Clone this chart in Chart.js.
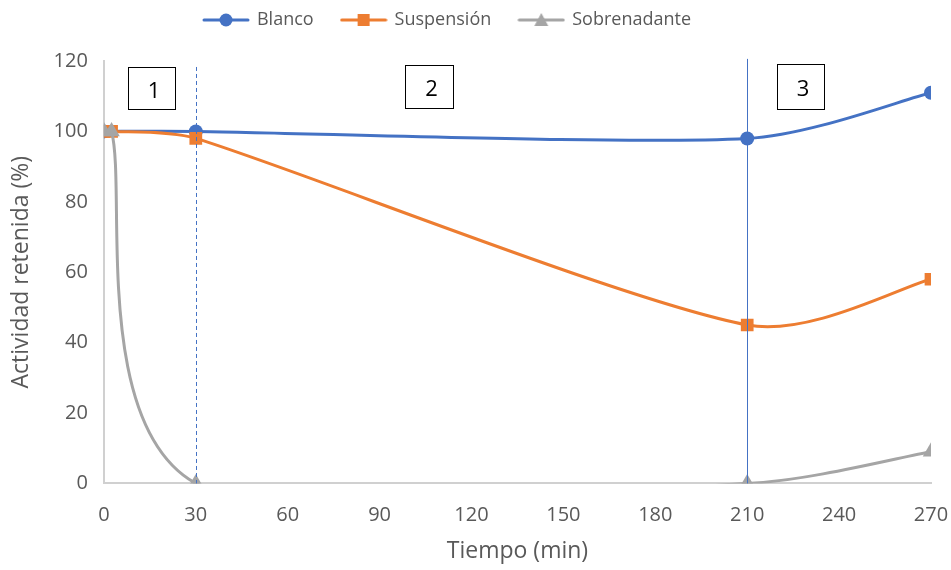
<!DOCTYPE html>
<html>
<head>
<meta charset="utf-8">
<script src="https://cdn.jsdelivr.net/npm/chart.js@4/dist/chart.umd.min.js"></script>
<style>
  html, body { margin: 0; padding: 0; background: #fff; }
  #wrap { width: 951px; height: 570px; }
</style>
</head>
<body>
<div id="wrap"><canvas id="chart"></canvas></div>
<script>
// Tiempo (min) y actividad retenida (%) por serie
const blancoX = [0, 30, 210, 270];
const blancoY = [100, 100, 98, 111];
const suspX = [0, 2.5, 30, 210, 270];
const suspY = [100, 100, 98, 45, 58];
const sobreX = [0, 2.5, 30, 210, 270];
const sobreY = [100, 100, 0, 0, 9];
const xTicks = [0, 30, 60, 90, 120, 150, 180, 210, 240, 270];

const BLUE = '#4472C4';
const ORANGE = '#ED7D31';
const GREY = '#A5A5A5';
const TEXT = '#595959';
const FONT = "'Open Sans', sans-serif";

function toPoints(xs, ys) {
  return xs.map((x, i) => ({ x: x, y: ys[i] }));
}

// legend swatch: short line with the marker in the middle
function swatch(color, shape) {
  const c = document.createElement('canvas');
  c.width = 48; c.height = 16;
  const g = c.getContext('2d');
  g.strokeStyle = color; g.lineWidth = 3; g.lineCap = 'round';
  g.beginPath(); g.moveTo(2, 8); g.lineTo(46, 8); g.stroke();
  g.fillStyle = color;
  g.beginPath();
  if (shape === 'circle') g.arc(24, 8, 6.5, 0, Math.PI * 2);
  else if (shape === 'rect') g.rect(18, 2, 12, 12);
  else { g.moveTo(24, 1); g.lineTo(31, 14); g.lineTo(17, 14); g.closePath(); }
  g.fill();
  return c;
}

// more room under the legend, and nudge it left
const legendGap = {
  id: 'legendGap',
  beforeInit(chart) {
    const fit = chart.legend.fit;
    chart.legend.fit = function () {
      fit.call(this);
      this.height += 22;
    };
  },
  afterLayout(chart) {
    chart.legend.left -= 20;
    chart.legend.right -= 20;
  }
};

// office-style smoothing: tangent = (next - prev) / 6 in pixel space,
// shortened to a third of the segment on each side
const smoothLines = {
  id: 'smoothLines',
  beforeDatasetDraw(chart, args) {
    const line = args.meta.dataset;
    const pts = args.meta.data;
    line.updateControlPoints(chart.chartArea, 'x');
    for (let i = 0; i < pts.length; i++) {
      const p = pts[i];
      const prev = pts[Math.max(i - 1, 0)];
      const next = pts[Math.min(i + 1, pts.length - 1)];
      const dx = (next.x - prev.x) / 6;
      const dy = (next.y - prev.y) / 6;
      const len = Math.hypot(dx, dy) || 1;
      const l1 = Math.min(len, Math.hypot(p.x - prev.x, p.y - prev.y) / 3);
      const l2 = Math.min(len, Math.hypot(next.x - p.x, next.y - p.y) / 3);
      p.cp1x = p.x - dx / len * l1; p.cp1y = p.y - dy / len * l1;
      p.cp2x = p.x + dx / len * l2; p.cp2y = p.y + dy / len * l2;
    }
    line._path = undefined;
  }
};

// divisiones de etapas y recuadros numerados
const stagePlugin = {
  id: 'stages',
  afterDatasetsDraw(chart) {
    const { ctx, scales: { x, y } } = chart;
    const x30 = Math.round(x.getPixelForValue(30)) + 0.5;
    const x210 = Math.round(x.getPixelForValue(210)) + 0.5;
    ctx.save();
    ctx.lineWidth = 1;
    ctx.strokeStyle = BLUE;
    ctx.setLineDash([4, 3]);
    ctx.beginPath();
    ctx.moveTo(x30, y.getPixelForValue(118.3));
    ctx.lineTo(x30, y.getPixelForValue(0));
    ctx.stroke();
    ctx.setLineDash([]);
    ctx.strokeStyle = BLUE;
    ctx.beginPath();
    ctx.moveTo(x210, y.getPixelForValue(120.6));
    ctx.lineTo(x210, y.getPixelForValue(0));
    ctx.stroke();

    const boxes = [
      { label: '1', x0: 7.8, x1: 23.2, y0: 118.3, y1: 106.4 },
      { label: '2', x0: 98.3, x1: 114, y0: 118.9, y1: 106.7 },
      { label: '3', x0: 219.7, x1: 235, y0: 119.2, y1: 106.4 }
    ];
    ctx.font = '22px ' + FONT;
    ctx.textAlign = 'center';
    ctx.textBaseline = 'middle';
    boxes.forEach(b => {
      const l = Math.round(x.getPixelForValue(b.x0)) + 0.5;
      const r = Math.round(x.getPixelForValue(b.x1)) + 0.5;
      const t = Math.round(y.getPixelForValue(b.y0)) + 0.5;
      const bt = Math.round(y.getPixelForValue(b.y1)) + 0.5;
      ctx.fillStyle = '#fff';
      ctx.fillRect(l, t, r - l, bt - t);
      ctx.strokeStyle = '#000';
      ctx.strokeRect(l, t, r - l, bt - t);
      ctx.fillStyle = '#000';
      ctx.fillText(b.label, (l + r) / 2 + 2, (t + bt) / 2 + 3);
    });
    ctx.restore();
  }
};

const series = [
  { label: 'Blanco', xs: blancoX, ys: blancoY, color: BLUE, shape: 'circle', radius: 7 },
  { label: 'Suspensión', xs: suspX, ys: suspY, color: ORANGE, shape: 'rect', radius: 9 },
  { label: 'Sobrenadante', xs: sobreX, ys: sobreY, color: GREY, shape: 'triangle', radius: 9.5 }
];

new Chart(document.getElementById('chart'), {
  type: 'line',
  data: {
    datasets: series.map(s => ({
      label: s.label,
      data: toPoints(s.xs, s.ys),
      borderColor: s.color,
      backgroundColor: s.color,
      borderWidth: 3,
      tension: 0.4,
      pointStyle: s.shape,
      pointRadius: s.radius,
      pointBorderWidth: 0,
      legendSwatch: swatch(s.color, s.shape)
    })).reverse()
  },
  options: {
    responsive: true,
    maintainAspectRatio: false,
    animation: false,
    layout: { padding: { top: -17, right: 20, left: 4, bottom: 1 } },
    plugins: {
      tooltip: { enabled: false },
      legend: {
        position: 'top',
        reverse: true,
        labels: {
          usePointStyle: true,
          pointStyleWidth: 44,
          color: TEXT,
          font: { family: FONT, size: 18 },
          padding: 28,
          generateLabels(chart) {
            return chart.data.datasets.map((d, i) => ({
              text: d.label,
              pointStyle: d.legendSwatch,
              fontColor: TEXT,
              datasetIndex: i,
              hidden: false
            }));
          }
        }
      }
    },
    scales: {
      x: {
        type: 'linear',
        min: 0,
        max: 270,
        afterBuildTicks(axis) { axis.ticks = xTicks.map(v => ({ value: v })); },
        afterFit(axis) { axis.paddingRight = 0; },
        grid: { display: false, drawTicks: false },
        border: { color: '#D0D0D0', width: 2 },
        ticks: { color: TEXT, font: { family: FONT, size: 20, lineHeight: 1 }, padding: 22, maxRotation: 0 },
        title: { display: true, text: 'Tiempo (min)', color: TEXT, font: { family: FONT, size: 23 }, padding: { top: -10 } }
      },
      y: {
        min: 0,
        max: 120,
        ticks: { stepSize: 20, color: TEXT, font: { family: FONT, size: 20 }, padding: 16 },
        grid: { display: false, drawTicks: false },
        border: { color: '#D0D0D0', width: 2 },
        title: { display: true, text: 'Actividad retenida (%)', color: TEXT, font: { family: FONT, size: 23 }, padding: { bottom: 2 } }
      }
    }
  },
  plugins: [legendGap, smoothLines, stagePlugin]
});
</script>
</body>
</html>
